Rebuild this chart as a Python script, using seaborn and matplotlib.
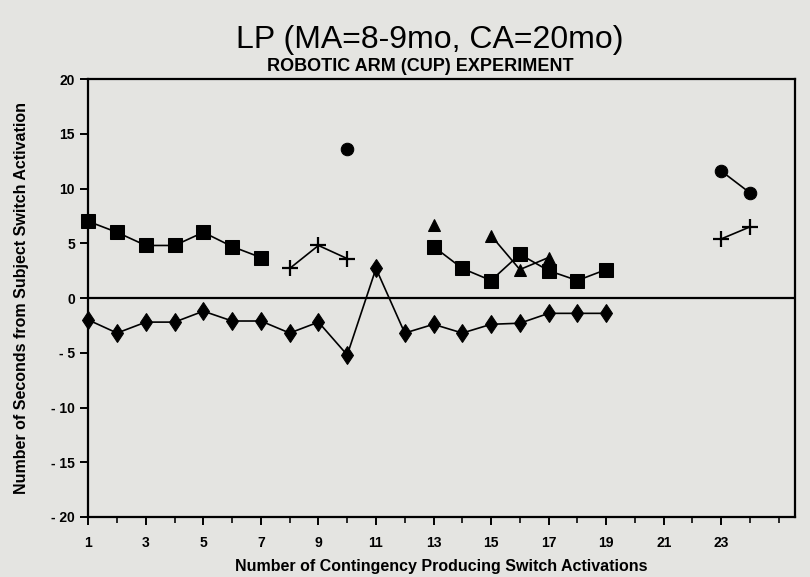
import numpy as np
import pandas as pd
import seaborn as sns
import matplotlib.pyplot as plt

nan = np.nan

## data ##
trials = list(range(1, 25))
squares = [7, 6, 4.8, 4.8, 6, 4.7, 3.7, nan, nan, nan, nan, nan,
           4.7, 2.7, 1.6, 4.0, 2.5, 1.6, 2.6, nan, nan, nan, nan, nan]
diamonds = [-2, -3.2, -2.2, -2.2, -1.2, -2.1, -2.1, -3.2, -2.2, -5.2, 2.7, -3.2,
            -2.4, -3.2, -2.4, -2.3, -1.4, -1.4, -1.4, nan, nan, nan, nan, nan]
pluses = [nan, nan, nan, nan, nan, nan, nan, 2.7, 4.8, 3.6, nan, nan,
          nan, nan, nan, nan, nan, nan, nan, nan, nan, nan, 5.4, 6.5]
circles = [nan, nan, nan, nan, nan, nan, nan, nan, nan, 13.6, nan, nan,
           nan, nan, nan, nan, nan, nan, nan, nan, nan, nan, 11.6, 9.6]
triangles = [nan, nan, nan, nan, nan, nan, nan, nan, nan, nan, nan, nan,
             6.7, nan, 5.7, 2.6, 3.7, nan, nan, nan, nan, nan, nan, nan]

series = {'square': squares, 'diamond': diamonds, 'plus': pluses,
          'circle': circles, 'triangle': triangles}
marker_style = {'square': dict(marker='s', markersize=10),
                'diamond': dict(marker='d', markersize=9.5),
                'plus': dict(marker='+', markersize=12, markeredgewidth=1.6),
                'circle': dict(marker='o', markersize=9),
                'triangle': dict(marker='^', markersize=9)}

paper = '#e4e4e1'
sns.set_style('ticks')
plt.rcParams['font.family'] = ['Liberation Sans Narrow', 'Liberation Sans', 'DejaVu Sans']
plt.rcParams['font.weight'] = 'bold'
plt.rcParams['text.color'] = 'black'
plt.rcParams['axes.labelcolor'] = 'black'

fig = plt.figure(figsize=(8.1, 5.77), dpi=100, facecolor=paper)
ax = fig.add_axes([0.109, 0.104, 0.872, 0.759], facecolor=paper)

ax.axhline(0, color='black', lw=1.6, zorder=1)

for name, vals in series.items():
    df = pd.DataFrame({'x': trials, 'y': vals})
    # split into runs of consecutive non-missing points
    df['seg'] = df['y'].isna().cumsum()
    df = df.dropna()
    for seg, part in df.groupby('seg'):
        sns.lineplot(data=part, x='x', y='y', ax=ax, color='black', lw=1.2,
                     markeredgecolor='black', zorder=3, clip_on=False,
                     **marker_style[name])

ax.set_xlim(1, 25.55)
ax.set_ylim(-20, 20)
ax.set_xticks(range(1, 24, 2))
ax.set_xticks(range(1, 26), minor=True)
ax.set_yticks(range(-20, 21, 5))
ax.set_yticklabels([str(v) if v >= 0 else '- ' + str(-v) for v in range(-20, 21, 5)])
ax.tick_params(axis='both', which='major', direction='out', length=6, width=1.4,
               labelsize=10, colors='black')
ax.tick_params(axis='x', which='major', pad=8)
ax.tick_params(axis='x', which='minor', direction='out', length=4, width=1.4)
for s in ax.spines.values():
    s.set_linewidth(1.6)
    s.set_color('black')
    s.set_visible(True)

ax.set_xlabel('Number of Contingency Producing Switch Activations', fontsize=11.5,
              fontweight='bold', labelpad=6)
ax.set_ylabel('Number of Seconds from Subject Switch Activation', fontsize=11.5,
              fontweight='bold', labelpad=16)

fig.text(0.53, 0.93, 'LP (MA=8-9mo, CA=20mo)', ha='center', va='center',
         fontsize=23, fontweight='normal')
fig.text(0.519, 0.884, 'ROBOTIC ARM (CUP) EXPERIMENT', ha='center', va='center',
         fontsize=13, fontweight='bold')

fig.savefig('out.png', dpi=100, facecolor=paper)
